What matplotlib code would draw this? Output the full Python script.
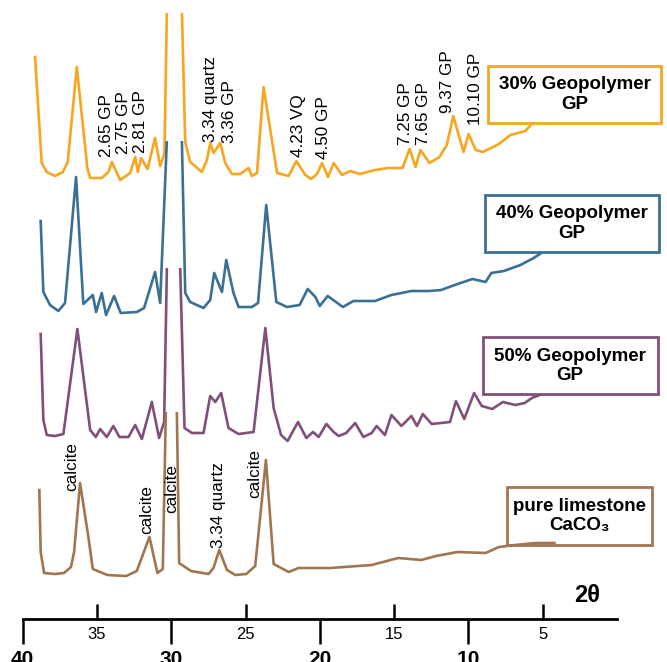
import numpy as np
import matplotlib.pyplot as plt
from matplotlib.patches import Rectangle

plt.rcParams.update({
    "font.family": ["Liberation Sans", "DejaVu Sans"],
    "font.size": 12,
})

# XRD patterns, 2-theta and intensity (arbitrary units above each trace's baseline)
tt_30 = [39.17, 38.72, 38.38, 37.82, 37.30, 36.97, 36.36, 35.65, 35.46, 34.68,
         34.23, 34.00, 33.44, 32.77, 32.43, 32.25, 32.03, 31.60, 31.09, 30.75,
         30.46, 29.89, 29.06, 28.73, 27.94, 27.60, 27.38, 27.16, 26.70, 26.37,
         25.92, 25.36, 24.80, 24.57, 24.23, 23.79, 22.88, 22.10, 21.58, 20.98,
         20.59, 20.19, 19.85, 19.45, 19.07, 18.51, 17.96, 17.29, 16.29, 15.40,
         14.44, 13.96, 13.56, 13.23, 12.62, 11.95, 11.46, 11.02, 10.33, 9.99,
         9.51, 9.02, 7.95, 7.17, 6.17, 5.61, 4.80]
int_30 = [122, 16, 7, 3, 7, 17, 112, 11, 1, 1,
          7, 17, -1, 6, 22, 7, 21, 10, 41, 13,
          26, 517, 37, 17, 7, 19, 36, 26, 36, 16,
          5, 5, 11, 3, 6, 92, 6, 3, 18, 4,
          0, 5, 16, 2, 16, 4, 8, 5, 9, 11,
          11, 30, 12, 29, 16, 22, 34, 63, 27, 45,
          29, 27, 35, 44, 48, 57, 69]

tt_40 = [38.79, 38.61, 38.16, 37.60, 37.15, 36.41, 35.92, 35.28, 35.06, 34.68,
         34.39, 33.85, 33.40, 32.32, 31.83, 31.09, 30.75, 29.64, 29.06, 28.73,
         27.83, 27.38, 27.11, 26.59, 26.30, 25.81, 25.47, 24.57, 24.16, 23.61,
         22.93, 22.21, 21.36, 20.82, 20.30, 20.01, 19.47, 18.45, 17.74, 16.29,
         15.18, 13.84, 12.62, 11.84, 10.73, 9.73, 8.84, 8.46, 7.61, 6.50,
         5.61, 4.88, 4.13]
int_40 = [93, 22, 9, 3, 11, 137, 10, 19, 2, 21,
          -1, 18, 1, 2, 6, 42, 11, 410, 21, 12,
          6, 14, 41, 22, 54, 21, 7, 7, 11, 109,
          12, 7, 9, 25, 17, 8, 18, 7, 13, 13,
          19, 23, 23, 24, 30, 35, 32, 41, 43, 49,
          56, 63, 74]

tt_50 = [38.79, 38.61, 38.38, 37.82, 37.26, 36.32, 35.46, 35.08, 34.79, 34.34,
         33.90, 33.49, 32.88, 32.43, 31.98, 31.31, 30.82, 30.48, 29.94, 29.11,
         28.61, 27.83, 27.38, 27.04, 26.64, 26.15, 25.47, 24.46, 23.67, 23.11,
         22.61, 22.17, 21.47, 20.91, 20.46, 20.08, 19.56, 19.07, 18.73, 18.23,
         17.62, 17.07, 16.51, 16.18, 15.62, 15.18, 14.51, 13.84, 13.46, 13.07,
         12.47, 11.24, 10.84, 10.28, 9.62, 9.10, 8.40, 7.68, 6.84, 6.22,
         5.73, 4.84, 4.06]
int_50 = [107, 21, 6, 5, 7, 112, 11, 4, 12, 4,
          15, 4, 4, 16, 2, 39, 3, 19, 472, 13,
          8, 8, 45, 39, 48, 13, 7, 9, 113, 33,
          6, 0, 19, 3, 9, 4, 17, 9, 5, 8,
          18, 4, 8, 15, 6, 26, 15, 25, 15, 27,
          17, 19, 40, 22, 48, 35, 32, 39, 36, 38,
          43, 48, 53]

tt_lime = [38.88, 38.79, 38.56, 37.82, 37.22, 36.75, 36.54, 36.14, 35.58, 35.28,
           34.30, 33.04, 32.32, 31.47, 30.93, 30.57, 29.95, 29.47, 28.68, 27.49,
           27.16, 26.77, 26.25, 25.69, 24.95, 24.35, 23.63, 23.11, 22.10, 21.43,
           19.29, 16.51, 14.73, 13.17, 12.18, 10.73, 8.84, 7.95, 6.84, 5.51, 4.21]
int_lime = [86, 24, 3, 2, 3, 9, 24, 93, 39, 7,
            1, 0, 5, 39, 3, 7, 484, 13, 5, 2,
            8, 26, 6, 1, 2, 10, 116, 12, 4, 8,
            8, 11, 18, 16, 20, 24, 23, 29, 31, 33, 33]

# peak labels
gp30_labels = ["2.65 GP", "2.75 GP", "2.81 GP", "3.34 quartz", "3.36 GP", "4.23 VQ",
               "4.50 GP", "7.25 GP", "7.65 GP", "9.37 GP", "10.10 GP"]
gp30_label_tt = [34.39, 33.24, 32.10, 27.38, 26.10, 21.45, 19.76, 14.24, 13.03, 11.41, 9.52]
gp30_label_int = [22, 25, 26, 37, 36, 22, 20, 34, 34, 66, 54]

lime_labels = ["calcite", "calcite", "calcite", "3.34 quartz", "calcite"]
lime_label_tt = [36.68, 31.62, 29.94, 26.84, 24.41]
lime_label_int = [85, 42, 63, 28, 78]

names = ["30% Geopolymer\nGP", "40% Geopolymer\nGP", "50% Geopolymer\nGP",
         "pure limestone\nCaCO\u2083"]

# trace offsets, display ceilings for the off-scale calcite peak, colours
offsets = [440, 305, 178, 43]
ceilings = [None, 173, 173, 164]
colors = ["#F7A620", "#3A7096", "#80507A", "#A07650"]

W, H = 667, 662
fig = plt.figure(figsize=(W / 100, H / 100), dpi=100)
ax = fig.add_axes([22.7 / W, 43 / H, 594.3 / W, 606 / H])
ax.set_xlim(40, 0)
ax.set_ylim(0, 606)

series = [(tt_30, int_30), (tt_40, int_40), (tt_50, int_50), (tt_lime, int_lime)]
for i, (tt, inten) in enumerate(series):
    z = 4 if i == 3 else 2
    line, = ax.plot(tt, np.array(inten) + offsets[i], color=colors[i], lw=1.9, zorder=z)
    if ceilings[i] is not None:
        clip = Rectangle((0, -50), 40, ceilings[i] + offsets[i] + 50, transform=ax.transData)
        line.set_clip_path(clip)

for lab, t, v in zip(gp30_labels, gp30_label_tt, gp30_label_int):
    ax.text(t, v + offsets[0], lab, rotation=90, ha="center", va="bottom", fontsize=12.3, zorder=6)
for lab, t, v in zip(lime_labels, lime_label_tt, lime_label_int):
    ax.text(t, v + offsets[3], lab, rotation=90, ha="center", va="bottom", fontsize=12.3, zorder=6)

# name boxes (pixel layout x, y, w, h from top-left)
boxes = [(488, 66, 173, 57), (484.5, 194.7, 174.5, 57),
         (482.5, 337.3, 175.2, 57.1), (507.2, 487.2, 144.6, 57.8)]
for (x, y, w, h), name, c in zip(boxes, names, colors):
    rect = Rectangle((x / W, 1 - (y + h) / H), w / W, h / H, transform=fig.transFigure,
                     facecolor="white", edgecolor=c, lw=2, zorder=3, clip_on=False)
    ax.add_artist(rect)
    ax.text((x + w / 2) / W, 1 - (y + h / 2) / H, name, transform=fig.transFigure,
            ha="center", va="center", fontsize=13.5, fontweight="bold", zorder=5)

# axis: only the bottom line, major ticks down, minor ticks up
for s in ["left", "top", "right"]:
    ax.spines[s].set_visible(False)
ax.spines["bottom"].set_linewidth(2)
ax.set_yticks([])
ax.set_xticks([40, 30, 20, 10])
ax.set_xticklabels(["40", "30", "20", "10"], fontsize=15, fontweight="bold")
ax.set_xticks([35, 25, 15, 5], minor=True)
ax.set_xticklabels(["35", "25", "15", "5"], minor=True, fontsize=12)
ax.tick_params(axis="x", which="major", direction="out", length=18, width=1.8, pad=4)
ax.tick_params(axis="x", which="minor", direction="in", length=11, width=1.8, pad=5.5)

fig.text(587 / W, 1 - 595 / H, "2\u03b8", ha="center", va="center", fontsize=17, fontweight="bold")

plt.savefig("out.png", dpi=100)
